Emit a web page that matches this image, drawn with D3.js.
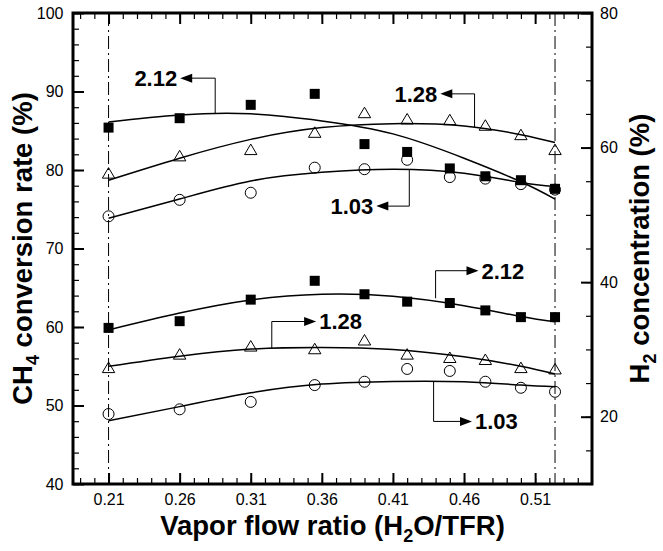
<!DOCTYPE html>
<html>
<head>
<meta charset="utf-8">
<script src="https://cdnjs.cloudflare.com/ajax/libs/d3/7.8.5/d3.min.js"></script>
<style>
  body { margin: 0; background: #fff; }
  svg { display: block; font-family: "Liberation Sans", Arial, sans-serif; }
</style>
</head>
<body>
<div id="chart"></div>
<script>
// measured points (vapor flow ratio)
var ratios = [0.21, 0.26, 0.31, 0.355, 0.39, 0.42, 0.45, 0.475, 0.50, 0.524];

// CH4 conversion rate (%), left axis
var conv212 = [85.4, 86.6, 88.3, 89.7, 83.3, 82.3, 80.2, 79.2, 78.7, 77.6];
var conv128 = [79.6, 81.8, 82.6, 84.8, 87.3, 86.5, 86.4, 85.7, 84.5, 82.6];
var conv103 = [74.1, 76.2, 77.1, 80.3, 80.1, 81.3, 79.1, 78.9, 78.2, 77.5];

// H2 concentration (%), right axis
var h2_212 = [33.2, 34.2, 37.4, 40.2, 38.2, 37.1, 36.9, 35.8, 34.8, 34.8];
var h2_128 = [27.3, 29.3, 30.5, 30.1, 31.4, 29.3, 28.8, 28.5, 27.3, 27.1];
var h2_103 = [20.4, 21.1, 22.2, 24.7, 25.2, 27.1, 26.8, 25.2, 24.3, 23.7];

// fitted curves
var fitX = [0.21, 0.26, 0.31, 0.36, 0.41, 0.46, 0.50, 0.524];
var fitConv212 = [86.1, 87.0, 87.15, 86.25, 84.6, 81.5, 78.5, 76.3];
var fitConv128 = [78.7, 81.5, 83.9, 85.4, 85.9, 85.6, 84.5, 83.5];
var fitConv103 = [73.85, 76.3, 78.6, 79.7, 80.1, 79.6, 78.4, 77.9];
var fitH2_212 = [32.9, 35.4, 37.35, 38.2, 37.9, 36.5, 34.9, 34.1];
var fitH2_128 = [27.5, 29.0, 30.05, 30.3, 30.0, 28.9, 27.5, 26.35];
var fitH2_103 = [19.4, 21.5, 23.55, 24.85, 25.25, 25.2, 24.7, 24.45];

// tick labels
var xTicks = [0.21, 0.26, 0.31, 0.36, 0.41, 0.46, 0.51];
var leftTicks = [40, 50, 60, 70, 80, 90, 100];
var rightTicks = [20, 40, 60, 80];

// labels with elbow leaders: xv = leader x, yc = on curve, ye = elbow, xt = arrow tip
var notes = [
  {label: "2.12", axis: "L", xv: 0.285, yc: 87.2, ye: 91.7, xt: 0.2604},
  {label: "1.28", axis: "L", xv: 0.4674, yc: 85.45, ye: 89.7, xt: 0.4433},
  {label: "1.03", axis: "L", xv: 0.4215, yc: 80.1, ye: 75.4, xt: 0.3983},
  {label: "2.12", axis: "R", xv: 0.44, yc: 37.6, ye: 41.7, xt: 0.4702},
  {label: "1.28", axis: "R", xv: 0.3248, yc: 30.2, ye: 34.15, xt: 0.356},
  {label: "1.03", axis: "R", xv: 0.4386, yc: 25.3, ye: 19.3, xt: 0.4656}
];

var W = 663, H = 551;
var margin = {top: 13, right: 71, bottom: 67, left: 73};
var w = W - margin.left - margin.right,
    h = H - margin.top - margin.bottom;

var svg = d3.select("#chart").append("svg")
  .attr("width", W).attr("height", H);

var g = svg.append("g")
  .attr("transform", "translate(" + margin.left + "," + margin.top + ")");

var x = d3.scaleLinear().domain([0.185, 0.55]).range([0, w]);
var yL = d3.scaleLinear().domain([40, 100]).range([h, 0]);
var yR = d3.scaleLinear().domain([10, 80]).range([h, 0]);

function styleAxis(sel, width) {
  sel.select(".domain").remove();
  sel.selectAll(".tick line").attr("stroke", "#000").attr("stroke-width", width);
  sel.selectAll(".tick text").attr("fill", "#000").style("font-size", "16px");
}

var xMinor = d3.range(19, 55).map(function(d) { return d / 100; });

// minor ticks
g.append("g").attr("transform", "translate(0," + h + ")")
  .call(d3.axisBottom(x).tickValues(xMinor).tickSize(-6).tickFormat(""))
  .call(styleAxis, 1.2);
g.append("g")
  .call(d3.axisTop(x).tickValues(xMinor).tickSize(-6).tickFormat(""))
  .call(styleAxis, 1.2);
g.append("g")
  .call(d3.axisLeft(yL).tickValues(d3.range(40, 101, 2)).tickSize(-6).tickFormat(""))
  .call(styleAxis, 1.2);
g.append("g").attr("transform", "translate(" + w + ",0)")
  .call(d3.axisRight(yR).tickValues(d3.range(10, 81, 5)).tickSize(-6).tickFormat(""))
  .call(styleAxis, 1.2);

// major ticks + labels
g.append("g").attr("transform", "translate(0," + h + ")")
  .call(d3.axisBottom(x).tickValues(xTicks).tickSize(-11).tickPadding(9.5).tickFormat(d3.format(".2f")))
  .call(styleAxis, 2);
g.append("g")
  .call(d3.axisTop(x).tickValues(xTicks).tickSize(-11).tickFormat(""))
  .call(styleAxis, 2);
g.append("g")
  .call(d3.axisLeft(yL).tickValues(leftTicks).tickSize(-11).tickPadding(9.5))
  .call(styleAxis, 2);
g.append("g").attr("transform", "translate(" + w + ",0)")
  .call(d3.axisRight(yR).tickValues(rightTicks).tickSize(-11).tickPadding(8))
  .call(styleAxis, 2);

// dash-dot reference lines at the first and last ratio
g.selectAll("line.ref")
  .data([ratios[0], ratios[ratios.length - 1]])
  .enter().append("line")
  .attr("class", "ref")
  .attr("x1", function(d) { return x(d); })
  .attr("x2", function(d) { return x(d); })
  .attr("y1", 0).attr("y2", h)
  .attr("stroke", "#000").attr("stroke-width", 1)
  .attr("stroke-dasharray", "13,4,2,4");

// fitted curves
var fits = [
  {y: yL, v: fitConv212}, {y: yL, v: fitConv128}, {y: yL, v: fitConv103},
  {y: yR, v: fitH2_212}, {y: yR, v: fitH2_128}, {y: yR, v: fitH2_103}
];
fits.forEach(function(f) {
  var line = d3.line()
    .x(function(d, i) { return x(fitX[i]); })
    .y(function(d) { return f.y(d); })
    .curve(d3.curveNatural);
  g.append("path")
    .attr("d", line(f.v))
    .attr("fill", "none")
    .attr("stroke", "#000")
    .attr("stroke-width", 1.5);
});

// markers
var series = [
  {y: yL, v: conv212, shape: "square"}, {y: yL, v: conv128, shape: "triangle"}, {y: yL, v: conv103, shape: "circle"},
  {y: yR, v: h2_212, shape: "square"}, {y: yR, v: h2_128, shape: "triangle"}, {y: yR, v: h2_103, shape: "circle"}
];
series.forEach(function(s) {
  var pts = g.append("g").selectAll("g")
    .data(s.v).enter().append("g")
    .attr("transform", function(d, i) { return "translate(" + x(ratios[i]) + "," + s.y(d) + ")"; });
  if (s.shape == "square") {
    pts.append("rect").attr("x", -5).attr("y", -5).attr("width", 10).attr("height", 10)
      .attr("fill", "#000");
  } else if (s.shape == "triangle") {
    pts.append("path").attr("d", "M0,-5.5L6.2,5L-6.2,5Z")
      .attr("fill", "none").attr("stroke", "#000").attr("stroke-width", 1);
  } else {
    pts.append("circle").attr("r", 5.5)
      .attr("fill", "none").attr("stroke", "#000").attr("stroke-width", 1);
  }
});

// annotations
notes.forEach(function(n) {
  var ys = n.axis == "L" ? yL : yR;
  var px = x(n.xv), pc = ys(n.yc), pe = ys(n.ye), pt = x(n.xt);
  var dir = pt < px ? -1 : 1;
  g.append("path")
    .attr("d", "M" + px + "," + pc + "V" + pe + "H" + (pt - dir * 11))
    .attr("fill", "none").attr("stroke", "#000").attr("stroke-width", 1);
  g.append("path")
    .attr("d", "M" + pt + "," + pe + "L" + (pt - dir * 12) + "," + (pe - 4.5) + "L" + (pt - dir * 12) + "," + (pe + 4.5) + "Z")
    .attr("fill", "#000");
  g.append("text")
    .attr("x", pt + dir * 3)
    .attr("y", pe)
    .attr("dy", "0.36em")
    .attr("text-anchor", dir < 0 ? "end" : "start")
    .style("font-size", "22px").style("font-weight", "bold")
    .text(n.label);
});

// frame
g.append("rect")
  .attr("width", w).attr("height", h)
  .attr("fill", "none").attr("stroke", "#000").attr("stroke-width", 3);

// axis titles
function title(sel, parts) {
  parts.forEach(function(p) {
    sel.append("tspan")
      .style("font-size", p.sub ? "18px" : "27.5px")
      .attr("dy", p.dy || 0)
      .text(p.t);
  });
}
var xt = svg.append("text")
  .attr("x", margin.left + w / 2).attr("y", 535)
  .attr("text-anchor", "middle").style("font-weight", "bold");
title(xt, [{t: "Vapor flow ratio (H"}, {t: "2", sub: true, dy: 7}, {t: "O/TFR)", dy: -7}]);

var lt = svg.append("text")
  .attr("transform", "translate(32," + (margin.top + h / 2) + ") rotate(-90)")
  .attr("text-anchor", "middle").style("font-weight", "bold");
title(lt, [{t: "CH"}, {t: "4", sub: true, dy: 7}, {t: " conversion rate (%)", dy: -7}]);

var rt = svg.append("text")
  .attr("transform", "translate(649," + (margin.top + h / 2) + ") rotate(-90)")
  .attr("text-anchor", "middle").style("font-weight", "bold");
title(rt, [{t: "H"}, {t: "2", sub: true, dy: 7}, {t: " concentration (%)", dy: -7}]);
</script>
</body>
</html>
